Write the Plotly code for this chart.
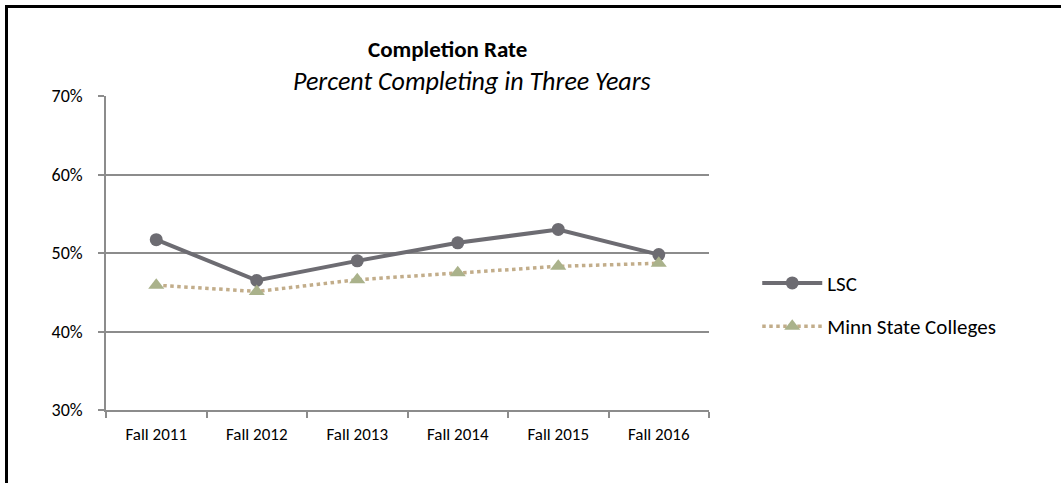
import plotly.graph_objects as go

# Fall cohorts and three-year completion rates (percent)
cohorts = ["Fall 2011", "Fall 2012", "Fall 2013", "Fall 2014", "Fall 2015", "Fall 2016"]
lsc_rate = [51.7, 46.5, 49.0, 51.3, 53.0, 49.8]
minn_state_rate = [45.9, 45.1, 46.6, 47.5, 48.3, 48.7]
y_ticks = [30, 40, 50, 60, 70]
y_tick_labels = ["30%", "40%", "50%", "60%", "70%"]

FONT = "Calibri, Carlito, Lato, sans-serif"
W, H = 1061, 483
M_L, M_R, M_T, M_B = 106, 352, 96, 73
AXIS_GRAY = "#8c8c8c"

fig = go.Figure()
fig.add_trace(go.Scatter(
    x=cohorts, y=lsc_rate, name="LSC", mode="lines+markers", legendgroup="lsc",
    line=dict(color="#6d6c72", width=4),
    marker=dict(symbol="circle", size=13, color="#6d6c72"),
))
fig.add_trace(go.Scatter(
    x=cohorts, y=minn_state_rate, name="Minn State Colleges", mode="lines+markers",
    legendgroup="minn",
    line=dict(color="#c2ad8a", width=3.5, dash="dot"),
    marker=dict(symbol="triangle-up", size=14, color="#aab28b"),
))

def px_to_paper_x(px):
    return (px - M_L) / (W - M_L - M_R)

def px_to_paper_y(py):
    return (H - M_B - py) / (H - M_T - M_B)

# Chart heading and subheading
fig.add_annotation(text="<b>Completion Rate</b>", xref="paper", yref="paper",
                   x=px_to_paper_x(447), y=px_to_paper_y(49), xanchor="center", yanchor="middle",
                   showarrow=False, font=dict(family=FONT, size=23, color="#000000"))
fig.add_annotation(text="<i>Percent Completing in Three Years</i>", xref="paper", yref="paper",
                   x=px_to_paper_x(472), y=px_to_paper_y(81), xanchor="center", yanchor="middle",
                   showarrow=False, font=dict(family=FONT, size=26, color="#000000"))

# Outer chart frame: left and top edges as one open path
fx0, fy0 = px_to_paper_x(6.5), px_to_paper_y(6.5)
fy_bottom = px_to_paper_y(483)
fig.add_shape(type="path", xref="paper", yref="paper",
              path=f"M {fx0},{fy_bottom} L {fx0},{fy0} L {px_to_paper_x(1061)},{fy0}",
              line=dict(color="#000000", width=3), layer="above")

fig.update_layout(
    width=W, height=H,
    margin=dict(l=M_L, r=M_R, t=M_T, b=M_B),
    paper_bgcolor="#ffffff", plot_bgcolor="#ffffff",
    font=dict(family=FONT, size=17, color="#000000"),
    showlegend=True,
    legend=dict(x=1.08, y=0.335, xanchor="left", yanchor="middle",
                font=dict(family=FONT, size=21, color="#000000"),
                itemwidth=60, tracegroupgap=13, bgcolor="rgba(0,0,0,0)"),
    xaxis=dict(
        type="category", range=[-0.5, 5.5], tickson="boundaries",
        ticks="outside", ticklen=6, tickcolor=AXIS_GRAY, tickwidth=1.5,
        showline=True, linecolor=AXIS_GRAY, linewidth=1.5,
        showgrid=False, ticklabelstandoff=8,
        tickfont=dict(family=FONT, size=17, color="#000000"),
    ),
    yaxis=dict(
        range=[30, 70], tickvals=y_ticks, ticktext=y_tick_labels,
        ticks="outside", ticklen=6, tickcolor=AXIS_GRAY, tickwidth=1.5,
        showline=True, linecolor=AXIS_GRAY, linewidth=1.5,
        showgrid=True, gridcolor=AXIS_GRAY, gridwidth=1.5,
        zeroline=False, ticklabelstandoff=12,
        tickfont=dict(family=FONT, size=18, color="#000000"),
    ),
)

fig.write_html("out.html", config={"displayModeBar": False})
